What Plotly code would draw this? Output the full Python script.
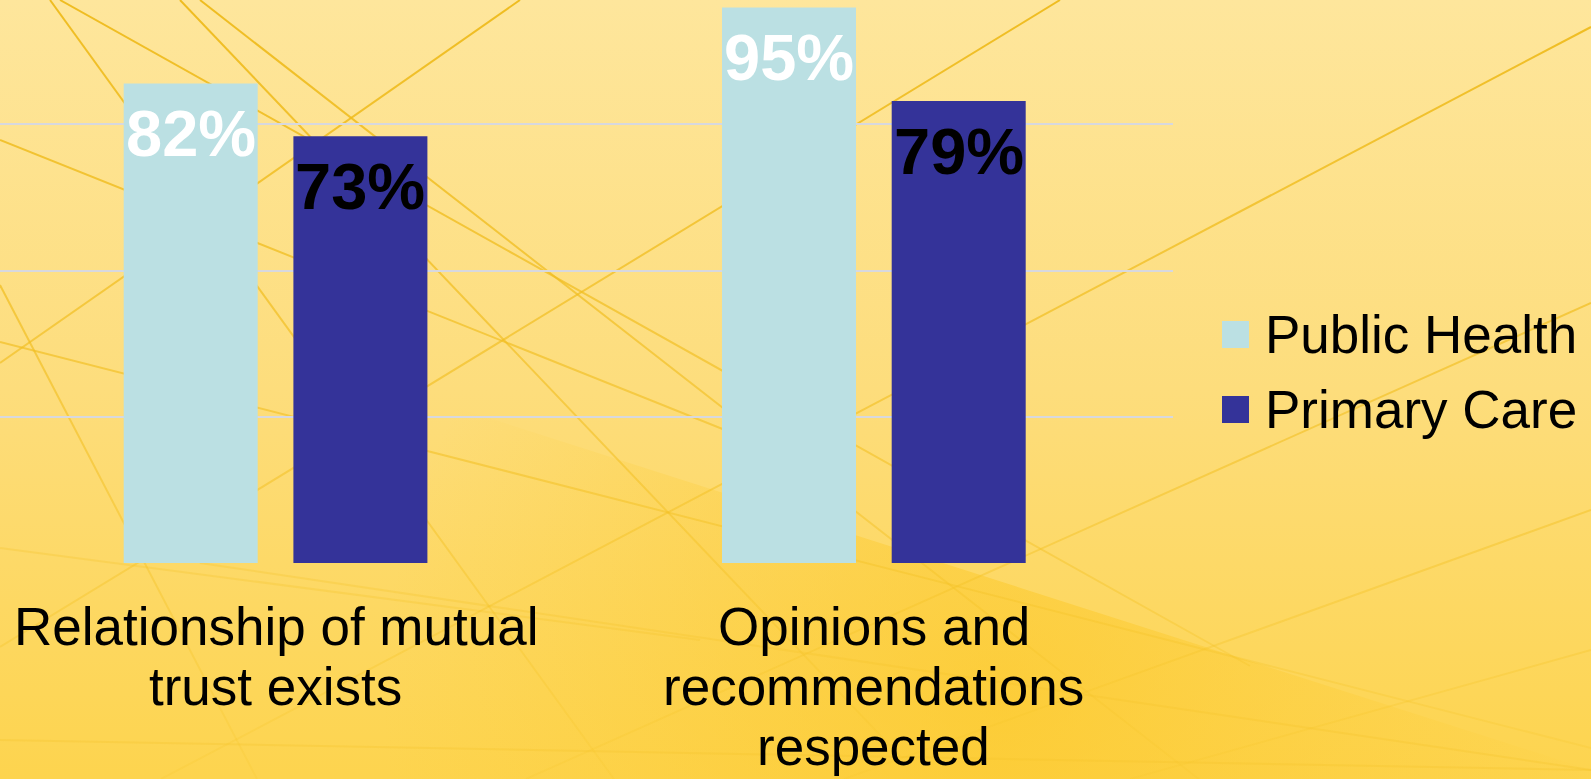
import base64
import plotly.graph_objects as go

# ---- data ----
categories = ["Relationship of mutual<br>trust exists",
              "Opinions and<br>recommendations<br>respected"]
series_names = ["Public Health", "Primary Care"]
public_health = [82, 95]
primary_care = [73, 79]

series_values = [public_health, primary_care]
series_colors = ["#BBE0E3", "#343399"]
label_colors = ["#FFFFFF", "#000000"]

# ---- canvas / plot-area geometry (pixels) ----
W, H = 1591, 779
PLOT_W, PLOT_H = 1173, 563          # plot area starts at the top-left corner
CAT_PX = 598.3                      # width of one category band
Y_TOP = PLOT_H / 5.847              # value shown at the top edge of the plot area
BARGAP, BARGROUPGAP = 0.4327, 0.2104
FONT = "Liberation Sans, Arial, sans-serif"


def xp(px):
    return px / PLOT_W


def yp(py):
    return 1 - py / PLOT_H


# ---- background artwork: warm yellow gradient with thin gold strands ----
strands = [
    (50, 0, 614, 779), (0, 285, 257, 779), (60, 0, 1250, 666),
    (180, 0, 900, 756), (200, 0, 1200, 780), (520, 0, 0, 363),
    (1060, 0, 0, 647), (1591, 27, 161, 779), (1591, 303, 526, 779),
    (1591, 510, 844, 779), (1591, 650, 1130, 779), (0, 342, 1591, 748),
    (0, 140, 760, 444),
]
faint_strands = [(200, 563, 1591, 770), (0, 740, 1591, 770),
                 (0, 548, 700, 640)]
lines_svg = "".join(
    f'<line x1="{a}" y1="{b}" x2="{c}" y2="{d}"/>' for a, b, c, d in strands
)
faint_svg = "".join(
    f'<line x1="{a}" y1="{b}" x2="{c}" y2="{d}"/>' for a, b, c, d in faint_strands
)
svg = f'''<svg xmlns="http://www.w3.org/2000/svg" width="{W}" height="{H}" viewBox="0 0 {W} {H}" preserveAspectRatio="none">
<defs>
<linearGradient id="bg" x1="0" y1="0" x2="0" y2="1">
<stop offset="0" stop-color="#FEE69C"/>
<stop offset="0.5" stop-color="#FDDD7C"/>
<stop offset="1" stop-color="#FDD44E"/>
</linearGradient>
<radialGradient id="glow" gradientUnits="userSpaceOnUse" cx="1000" cy="700" r="620">
<stop offset="0" stop-color="#FCC724" stop-opacity="0.6"/>
<stop offset="0.55" stop-color="#FCC92C" stop-opacity="0.28"/>
<stop offset="1" stop-color="#FCCB30" stop-opacity="0"/>
</radialGradient>
<linearGradient id="ln" gradientUnits="userSpaceOnUse" x1="0" y1="0" x2="0" y2="{H}">
<stop offset="0" stop-color="#EEBA1A" stop-opacity="0.95"/>
<stop offset="0.55" stop-color="#F2BF22" stop-opacity="0.6"/>
<stop offset="1" stop-color="#F6C62C" stop-opacity="0.2"/>
</linearGradient>
</defs>
<rect x="0" y="0" width="{W}" height="{H}" fill="url(#bg)"/>
<polygon points="0,262 1591,770 1591,779 0,779" fill="url(#glow)"/>
<g stroke="url(#ln)" stroke-width="2" fill="none">{lines_svg}</g>
<g stroke="#F4C42A" stroke-opacity="0.3" stroke-width="2" fill="none">{faint_svg}</g>
</svg>'''
bg_uri = "data:image/svg+xml;base64," + base64.b64encode(svg.encode()).decode()

fig = go.Figure()
for name, vals, color in zip(series_names, series_values, series_colors):
    fig.add_trace(go.Bar(
        x=categories, y=vals, name=name,
        marker=dict(color=color, line=dict(width=0)),
        showlegend=False, hoverinfo="skip",
    ))

annotations = []

# value labels inside the top of each bar
slot = (1 - BARGAP) * CAT_PX / len(series_names)
for s, (vals, lc) in enumerate(zip(series_values, label_colors)):
    shift = (s - (len(series_names) - 1) / 2) * slot
    for cat, v in zip(categories, vals):
        annotations.append(dict(
            x=cat, y=v, xref="x", yref="y", text=f"<b>{v}%</b>",
            showarrow=False, xanchor="center", yanchor="middle",
            xshift=shift, yshift=-50,
            font=dict(family=FONT, size=65, color=lc),
        ))

# category labels under the axis, one line each for tight leading
for cat in categories:
    for k, line in enumerate(cat.split("<br>")):
        baseline = 645 + 60 * k
        annotations.append(dict(
            x=cat, y=yp(baseline - 18.4), xref="x", yref="paper",
            text=line, showarrow=False, xanchor="center", yanchor="middle",
            font=dict(family=FONT, size=53, color="#000000"),
        ))

# legend at the right
shapes = []
for k, (name, color) in enumerate(zip(series_names, series_colors)):
    top = 321 + 75 * k
    shapes.append(dict(
        type="rect", xref="paper", yref="paper",
        x0=xp(1222), x1=xp(1249), y0=yp(top + 27), y1=yp(top),
        fillcolor=color, line=dict(width=0), layer="above",
    ))
    annotations.append(dict(
        x=xp(1263), y=yp(top + 13.5), xref="paper", yref="paper",
        text=name, showarrow=False, xanchor="left", yanchor="middle",
        font=dict(family=FONT, size=53, color="#000000"),
    ))

fig.update_layout(
    width=W, height=H, autosize=False,
    margin=dict(l=0, r=W - PLOT_W, t=0, b=H - PLOT_H, pad=0),
    paper_bgcolor="#FDDD7C", plot_bgcolor="rgba(0,0,0,0)",
    barmode="group", bargap=BARGAP, bargroupgap=BARGROUPGAP,
    font=dict(family=FONT),
    xaxis=dict(range=[1.5 - PLOT_W / CAT_PX, 1.5], showticklabels=False,
               showgrid=False, zeroline=False, showline=False, ticks=""),
    yaxis=dict(range=[0, Y_TOP], tick0=0, dtick=25, showticklabels=False,
               showgrid=True, gridcolor="#D7D8DE", gridwidth=2,
               zeroline=False, showline=False, ticks=""),
    images=[dict(source=bg_uri, xref="paper", yref="paper",
                 x=0, y=1, sizex=W / PLOT_W, sizey=H / PLOT_H,
                 xanchor="left", yanchor="top", sizing="stretch",
                 layer="below")],
    annotations=annotations,
    shapes=shapes,
)

fig.write_html("out.html")
